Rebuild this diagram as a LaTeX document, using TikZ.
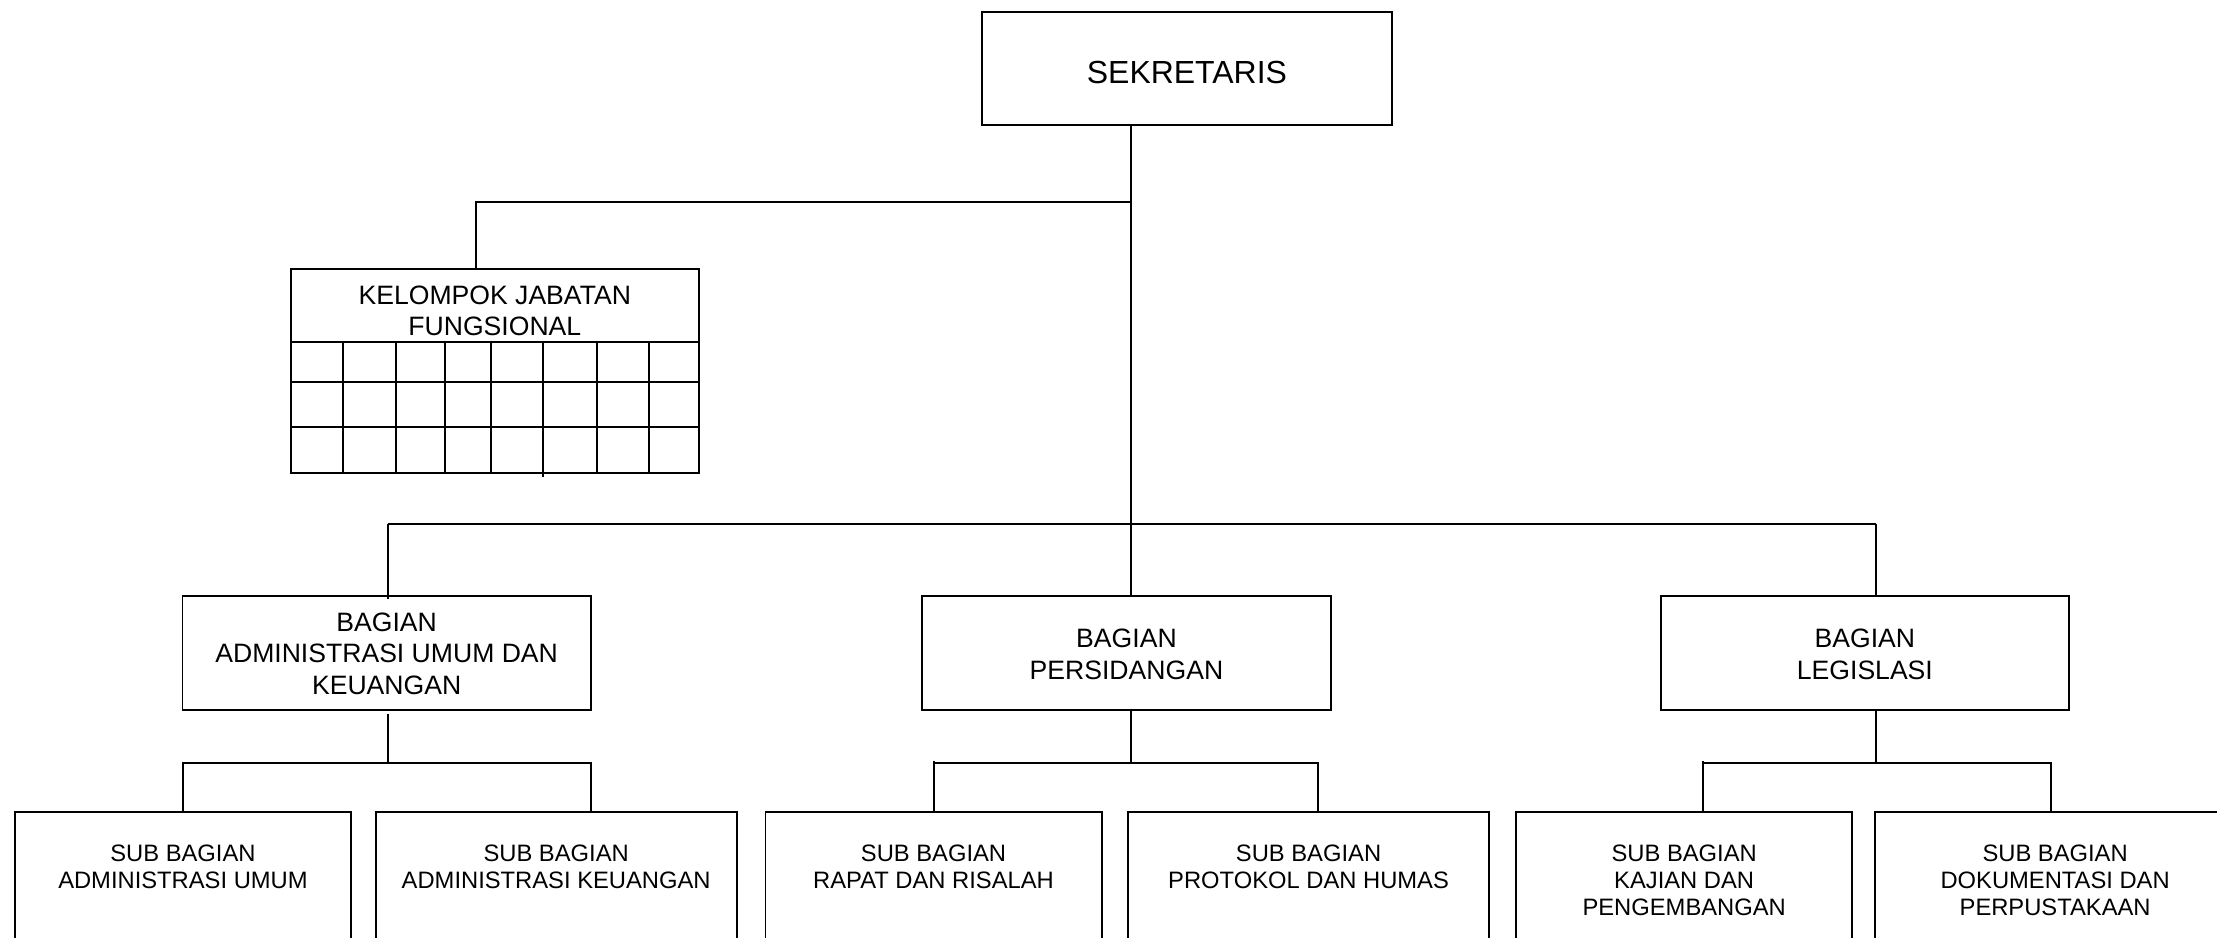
\documentclass[tikz,border=0pt]{standalone}
\usepackage{fontspec}
\setmainfont{Liberation Sans}
\begin{document}
\begin{tikzpicture}[x=1pt,y=-1pt,
  ln/.style={line width=1.35pt, draw=black},
  frame/.style={draw=black, line width=1.35pt, rectangle, inner sep=0pt},
  bagbox/.style={frame, minimum width=288.7pt, minimum height=80.8pt},
  bagtxt/.style={inner sep=0pt, align=center, font=\fontsize{18.8}{22}\selectfont},
  subbox/.style={frame, minimum width=#1, minimum height=130pt},
  subtxt/.style={anchor=north, inner sep=0pt, align=center,
     font=\fontsize{16.8}{19.1}\selectfont},
  toptxt/.style={inner sep=0pt, align=center}
]
\useasboundingbox (0,0) rectangle (1568,663);
\clip (0,0) rectangle (1568,663);

% top
\node[frame, minimum width=289.5pt, minimum height=79.5pt] (sek) at (839.45,48.45) {};
\node[toptxt, font=\fontsize{22.6}{26}\selectfont] (sekt) at (839.45,51.5) {SEKRETARIS};

% kelompok jabatan fungsional
\node[frame, minimum width=288.3pt, minimum height=144.3pt] (kjf) at (349.95,262.55) {};
\node[toptxt, font=\fontsize{18.8}{21.4}\selectfont] (kjft) at (349.95,219.8) {KELOMPOK JABATAN\\FUNGSIONAL};
\foreach \yy in {241.6,269.9,301.8}
  \draw[ln] (205.8,\yy) -- (494.1,\yy);
\foreach \xx in {242.4,279.8,314.5,347.5,422,459}
  \draw[ln] (\xx,241.6) -- (\xx,334.7);
\draw[ln] (384,241.6) -- (384,337.1);

% bagian
\node[bagbox] (bag1) at (273.45,461.9) {};
\node[bagbox] (bag2) at (796.7,461.9) {};
\node[bagbox] (bag3) at (1318.95,461.9) {};
\node[bagtxt] (bag1t) at (273.45,462.4) {BAGIAN\\ADMINISTRASI UMUM DAN\\KEUANGAN};
\node[bagtxt] (bag2t) at (796.7,462.8) {BAGIAN\\PERSIDANGAN};
\node[bagtxt] (bag3t) at (1318.95,462.8) {BAGIAN\\LEGISLASI};

% sub bagian
\node[subbox=237.7pt] (s1) at (129.4,639.5) {};
\node[subbox=255.2pt] (s2) at (393.35,639.5) {};
\node[subbox=237.7pt] (s3) at (660.25,639.5) {};
\node[subbox=255.2pt] (s4) at (925.5,639.5) {};
\node[subbox=237.7pt] (s5) at (1191.15,639.5) {};
\node[subbox=255.2pt] (s6) at (1453.5,639.5) {};
\node[subtxt] (s1t) at (129.4,597.5) {SUB BAGIAN\\ADMINISTRASI UMUM};
\node[subtxt] (s2t) at (393.35,597.5) {SUB BAGIAN\\ADMINISTRASI KEUANGAN};
\node[subtxt] (s3t) at (660.25,597.5) {SUB BAGIAN\\RAPAT DAN RISALAH};
\node[subtxt] (s4t) at (925.5,597.5) {SUB BAGIAN\\PROTOKOL DAN HUMAS};
\node[subtxt] (s5t) at (1191.15,597.5) {SUB BAGIAN\\KAJIAN DAN\\PENGEMBANGAN};
\node[subtxt] (s6t) at (1453.5,597.5) {SUB BAGIAN\\DOKUMENTASI DAN\\PERPUSTAKAAN};

% junction coordinates
\coordinate (j0) at (800.1,142.6);
\coordinate (k1) at (336.4,142.6);
\coordinate (h1) at (274.4,370.6);
\coordinate (h2) at (1326.5,370.6);
\coordinate (a0) at (274.4,539.8);
\coordinate (a1) at (129.2,539.8);
\coordinate (a2) at (417.7,539.8);
\coordinate (p0) at (800.1,539.8);
\coordinate (p1) at (660.5,539.8);
\coordinate (p2) at (932.3,539.8);
\coordinate (l0) at (1326.5,539.8);
\coordinate (l1) at (1204.2,539.8);
\coordinate (l2) at (1450.3,539.8);

% connectors
\draw[ln] (sek.south -| j0) -- (bag2.north -| j0);
\draw[ln] (j0) -- (k1) -- (kjf.north -| k1);
\draw[ln] (h1) -- (h2);
\draw[ln] (h1) -- ([yshift=-3pt]bag1.north -| h1);
\draw[ln] (h2) -- (bag3.north -| h2);

\draw[ln] ([yshift=-1.7pt]bag1.south -| a0) -- (a0);
\draw[ln] (s1.north -| a1) -- (a1) -- (a2) -- (s2.north -| a2);

\draw[ln] (bag2.south -| p0) -- (p0);
\draw[ln] ([yshift=1.6pt]p1) -- (s3.north -| p1);
\draw[ln] (p1) -- (p2) -- (s4.north -| p2);

\draw[ln] (bag3.south -| l0) -- (l0);
\draw[ln] ([yshift=1.6pt]l1) -- (s5.north -| l1);
\draw[ln] (l1) -- (l2) -- (s6.north -| l2);
\end{tikzpicture}
\end{document}
